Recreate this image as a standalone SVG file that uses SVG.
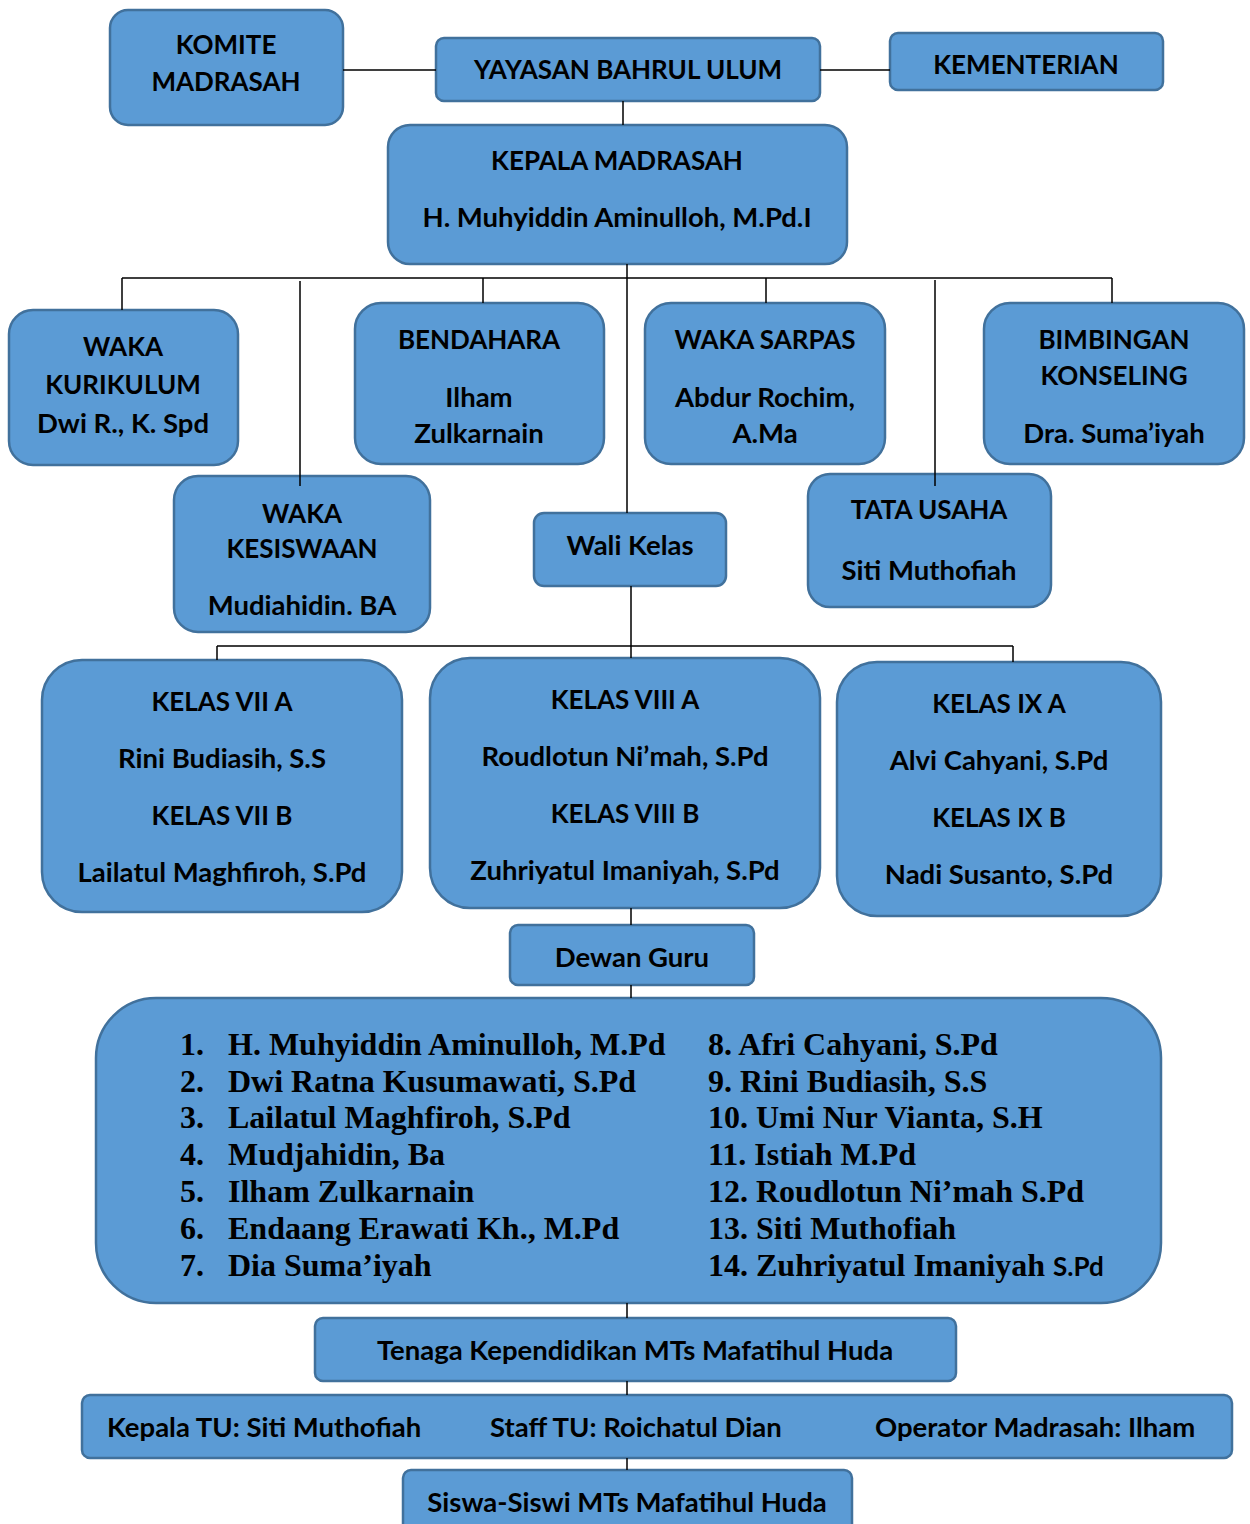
<svg xmlns="http://www.w3.org/2000/svg" width="1250" height="1524" viewBox="0 0 1250 1524">
<style>
.box{fill:#5B9BD5;stroke:#41719C;stroke-width:2.5}
.t{font-family:Lato,"Liberation Sans",sans-serif;font-weight:bold;font-size:26px;fill:#000;text-anchor:middle}
.m{font-family:Lato,"Liberation Sans",sans-serif;font-weight:bold;font-size:27.5px;fill:#000;text-anchor:middle}
.ts{font-family:Lato,"Liberation Sans",sans-serif;font-weight:bold;font-size:27.5px;fill:#000}
.l{font-family:"Liberation Serif","Times New Roman",serif;font-weight:bold;font-size:32px;fill:#000}
.c{stroke:#000;stroke-width:1.5;fill:none}
</style>
<rect width="1250" height="1524" fill="#fff"/>
<g id="komite"><rect class="box" x="110" y="10" width="233" height="115" rx="18"/>
<text class="t" x="226" y="54">KOMITE</text><text class="t" x="226" y="91">MADRASAH</text></g>
<g id="yayasan"><rect class="box" x="436" y="38" width="384" height="63" rx="8"/>
<text class="t" x="628" y="79">YAYASAN BAHRUL ULUM</text></g>
<g id="kementerian"><rect class="box" x="890" y="33" width="273" height="57" rx="8"/>
<text class="t" x="1026" y="74">KEMENTERIAN</text></g>
<g id="kepala"><rect class="box" x="388" y="125" width="459" height="139" rx="22"/>
<text class="t" x="617" y="170">KEPALA MADRASAH</text><text class="m" x="617" y="227">H. Muhyiddin Aminulloh, M.Pd.I</text></g>
<g id="kurikulum"><rect class="box" x="9" y="310" width="229" height="155" rx="24"/>
<text class="t" x="123" y="356">WAKA</text><text class="t" x="123" y="394">KURIKULUM</text><text class="m" x="123" y="433">Dwi R., K. Spd</text></g>
<g id="bendahara"><rect class="box" x="355" y="303" width="249" height="161" rx="26"/>
<text class="t" x="479" y="349">BENDAHARA</text><text class="m" x="479" y="407">Ilham</text><text class="m" x="479" y="443">Zulkarnain</text></g>
<g id="sarpas"><rect class="box" x="645" y="303" width="240" height="161" rx="26"/>
<text class="t" x="765" y="349">WAKA SARPAS</text><text class="m" x="765" y="407">Abdur Rochim,</text><text class="m" x="765" y="443">A.Ma</text></g>
<g id="bk"><rect class="box" x="984" y="303" width="260" height="161" rx="26"/>
<text class="t" x="1114" y="349">BIMBINGAN</text><text class="t" x="1114" y="385">KONSELING</text><text class="m" x="1114" y="443">Dra. Suma’iyah</text></g>
<g id="kesiswaan"><rect class="box" x="174" y="476" width="256" height="156" rx="24"/>
<text class="t" x="302" y="523">WAKA</text><text class="t" x="302" y="558">KESISWAAN</text><text class="m" x="302" y="615">Mudiahidin. BA</text></g>
<g id="walikelas"><rect class="box" x="534" y="513" width="192" height="73" rx="10"/>
<text class="m" x="630" y="555">Wali Kelas</text></g>
<g id="tatausaha"><rect class="box" x="808" y="474" width="243" height="133" rx="22"/>
<text class="t" x="929" y="519">TATA USAHA</text><text class="m" x="929" y="580">Siti Muthofiah</text></g>
<g id="kelas7"><rect class="box" x="42" y="660" width="360" height="252" rx="40"/>
<text class="t" x="222" y="711">KELAS VII A</text><text class="m" x="222" y="768">Rini Budiasih, S.S</text><text class="t" x="222" y="825">KELAS VII B</text><text class="m" x="222" y="882">Lailatul Maghfiroh, S.Pd</text></g>
<g id="kelas8"><rect class="box" x="430" y="658" width="390" height="250" rx="40"/>
<text class="t" x="625" y="709">KELAS VIII A</text><text class="m" x="625" y="766">Roudlotun Ni’mah, S.Pd</text><text class="t" x="625" y="823">KELAS VIII B</text><text class="m" x="625" y="880">Zuhriyatul Imaniyah, S.Pd</text></g>
<g id="kelas9"><rect class="box" x="837" y="662" width="324" height="254" rx="40"/>
<text class="t" x="999" y="713">KELAS IX A</text><text class="m" x="999" y="770">Alvi Cahyani, S.Pd</text><text class="t" x="999" y="827">KELAS IX B</text><text class="m" x="999" y="884">Nadi Susanto, S.Pd</text></g>
<g id="dewanguru"><rect class="box" x="510" y="925" width="244" height="60" rx="8"/>
<text class="m" x="632" y="967">Dewan Guru</text></g>
<g id="daftarguru"><rect class="box" x="96" y="998" width="1065" height="305" rx="60"/>
<text class="l" x="180" y="1055">1.</text><text class="l" x="228" y="1055">H. Muhyiddin Aminulloh, M.Pd</text>
<text class="l" x="180" y="1092">2.</text><text class="l" x="228" y="1092">Dwi Ratna Kusumawati, S.Pd</text>
<text class="l" x="180" y="1128">3.</text><text class="l" x="228" y="1128">Lailatul Maghfiroh, S.Pd</text>
<text class="l" x="180" y="1165">4.</text><text class="l" x="228" y="1165">Mudjahidin, Ba</text>
<text class="l" x="180" y="1202">5.</text><text class="l" x="228" y="1202">Ilham Zulkarnain</text>
<text class="l" x="180" y="1239">6.</text><text class="l" x="228" y="1239">Endaang Erawati Kh., M.Pd</text>
<text class="l" x="180" y="1276">7.</text><text class="l" x="228" y="1276">Dia Suma’iyah</text>
<text class="l" x="708" y="1055">8. Afri Cahyani, S.Pd</text>
<text class="l" x="708" y="1092">9. Rini Budiasih, S.S</text>
<text class="l" x="708" y="1128">10. Umi Nur Vianta, S.H</text>
<text class="l" x="708" y="1165">11. Istiah M.Pd</text>
<text class="l" x="708" y="1202">12. Roudlotun Ni’mah S.Pd</text>
<text class="l" x="708" y="1239">13. Siti Muthofiah</text>
<text class="l" x="708" y="1276">14. Zuhriyatul Imaniyah <tspan style="font-family:Lato,'Liberation Sans',sans-serif;font-size:26px">S.Pd</tspan></text>
</g>
<g id="tenaga"><rect class="box" x="315" y="1318" width="641" height="63" rx="8"/>
<text class="m" x="635" y="1360">Tenaga Kependidikan MTs Mafatihul Huda</text></g>
<g id="staff"><rect class="box" x="82" y="1395" width="1150" height="63" rx="8"/>
<text class="ts" x="107" y="1437">Kepala TU: Siti Muthofiah</text><text class="ts" x="490" y="1437">Staff TU: Roichatul Dian</text><text class="ts" x="875" y="1437">Operator Madrasah: Ilham</text></g>
<g id="siswa"><rect class="box" x="403" y="1470" width="449" height="70" rx="8"/>
<text class="m" x="627" y="1512">Siswa-Siswi MTs Mafatihul Huda</text></g>
<g id="connectors">
<path class="c" d="M343 70H436M820 70H890M623 101V125M627 264V513M122 278H1112M122 278V310M483 278V303M766 278V303M1112 278V303M300 281V486M935 280V486M631 586V658M217 646H1013M217 646V660M1013 646V662M631 908V925M631 985V998M627 1303V1318M627 1381V1395M627 1458V1470"/>
</g>
</svg>
